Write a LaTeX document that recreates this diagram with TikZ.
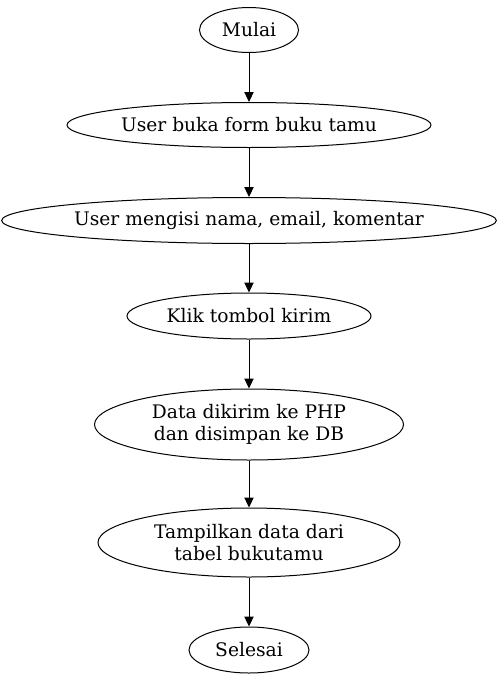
\documentclass[tikz,border=0pt]{standalone}
\usepackage{fontspec}
\setmainfont{DejaVu Serif}
\usetikzlibrary{shapes.geometric,arrows.meta}
\begin{document}
\begin{tikzpicture}[x=0.75pt,y=-0.75pt,
  flownode/.style={draw,ellipse,inner sep=0pt,line width=0.75pt,align=center,font=\fontsize{14pt}{16.5pt}\selectfont},
  flowarrow/.style={draw,line width=0.75pt,-{Triangle[length=7.5pt,width=7pt]}}]
\useasboundingbox (0,0) rectangle (498,682);
\node[flownode,minimum width=74.25pt,minimum height=33.75pt] (mulai) at (249,30) {Mulai};
\node[flownode,minimum width=273pt,minimum height=33.75pt] (buka) at (249,125) {User buka form buku tamu};
\node[flownode,minimum width=367.5pt,minimum height=34.5pt] (isi) at (249,220.5) {User mengisi nama, email, komentar};
\node[flownode,minimum width=183pt,minimum height=34.5pt] (klik) at (249,316) {Klik tombol kirim};
\node[flownode,minimum width=231.75pt,minimum height=53.25pt] (data) at (249,424.5) {Data dikirim ke PHP\\dan disimpan ke DB};
\node[flownode,minimum width=226.5pt,minimum height=51.75pt] (tampil) at (249,542.5) {Tampilkan data dari\\tabel bukutamu};
\node[flownode,minimum width=90pt,minimum height=34.5pt] (selesai) at (249,650) {Selesai};
\draw[flowarrow] (mulai) -- (buka);
\draw[flowarrow] (buka) -- (isi);
\draw[flowarrow] (isi) -- (klik);
\draw[flowarrow] (klik) -- (data);
\draw[flowarrow] (data) -- (tampil);
\draw[flowarrow] (tampil) -- (selesai);
\end{tikzpicture}
\end{document}
